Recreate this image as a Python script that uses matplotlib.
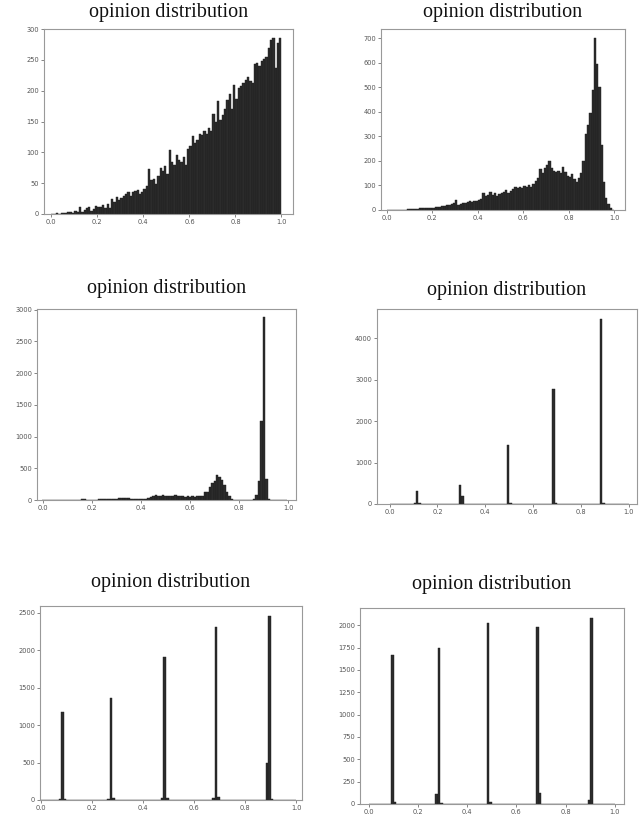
#!/usr/bin/env python3
# -*- coding: utf-8 -*-
# six opinion distribution histograms (100 bins on [0, 1])
import numpy as np
import matplotlib
matplotlib.use('Agg')
import matplotlib.pyplot as plt

titulo = 'opinion distribution'

# panel 1: counts per bin (bin i = [i/100, (i+1)/100))
cuentas1 = [0, 0, 1, 0, 1, 1, 2, 3, 4, 2,
            5, 4, 12, 3, 6, 10, 11, 5, 8, 13,
            12, 11, 14, 9, 17, 10, 24, 20, 27, 22,
            26, 30, 33, 35, 29, 35, 38, 39, 33, 36,
            40, 45, 73, 55, 57, 48, 62, 75, 70, 78,
            65, 103, 85, 80, 95, 88, 84, 92, 80, 105,
            110, 126, 115, 120, 130, 128, 135, 130, 140, 135,
            162, 150, 184, 152, 160, 170, 185, 195, 170, 210,
            186, 205, 208, 212, 218, 222, 215, 212, 243, 245,
            240, 248, 252, 255, 270, 282, 285, 237, 278, 285]

# panel 2
cuentas2 = [1, 1, 2, 1, 2, 2, 2, 1, 2, 3,
            3, 4, 3, 6, 8, 7, 9, 10, 8, 9,
            10, 12, 11, 14, 18, 16, 20, 22, 25, 28,
            40, 22, 25, 28, 30, 32, 35, 33, 38, 36,
            40, 45, 68, 55, 60, 72, 62, 68, 58, 65,
            70, 75, 80, 70, 78, 85, 92, 88, 95, 90,
            98, 92, 100, 95, 105, 120, 130, 165, 150, 170,
            185, 198, 170, 160, 155, 160, 150, 175, 155, 140,
            135, 145, 125, 115, 130, 150, 200, 310, 345, 395,
            490, 700, 595, 500, 265, 115, 50, 25, 10, 2]

# panel 3 (bins centred on i/100)
cuentas3 = [0, 0, 0, 0, 0, 0, 0, 0, 0, 0,
            0, 0, 0, 0, 1, 2, 8, 10, 3, 2,
            3, 5, 6, 8, 10, 9, 12, 14, 15, 18,
            22, 28, 30, 32, 28, 25, 18, 16, 15, 18,
            16, 18, 20, 35, 50, 65, 75, 70, 68, 72,
            65, 70, 62, 68, 72, 60, 58, 65, 55, 60,
            52, 68, 55, 60, 62, 60, 120, 130, 200, 270,
            300, 390, 370, 310, 230, 130, 60, 20, 5, 2,
            1, 1, 0, 1, 2, 5, 20, 80, 300, 1250,
            2880, 330, 8, 0, 0, 0, 0, 0, 0, 0]

# panels 4-6: only the non-empty bins
indices4 = [10, 11, 12, 29, 30, 49, 50, 68, 69, 88, 89]
valores4 = [15, 320, 15, 460, 200, 1420, 30, 2780, 20, 4470, 15]

indices5 = [7, 8, 9, 26, 27, 28, 47, 48, 49, 67, 68, 69, 88, 89, 90]
valores5 = [10, 1170, 20, 10, 1360, 25, 25, 1910, 30, 30, 2310, 35, 500, 2460, 15]

indices6 = [9, 10, 27, 28, 29, 48, 49, 68, 69, 89, 90]
valores6 = [1665, 20, 110, 1745, 15, 2025, 20, 1980, 120, 45, 2080]

yticks = [np.arange(0, 301, 50), np.arange(0, 701, 100), np.arange(0, 3001, 500),
          np.arange(0, 4001, 1000), np.arange(0, 2501, 500), np.arange(0, 2001, 250)]


def llenar(indices, valores):
    c = np.zeros(100)
    c[indices] = valores
    return c


def main():
    W, H = 644, 818
    fig = plt.figure(figsize=(W / 100, H / 100), dpi=100)
    fig.patch.set_facecolor('white')

    datos = [np.array(cuentas1), np.array(cuentas2), np.array(cuentas3),
             llenar(indices4, valores4), llenar(indices5, valores5),
             llenar(indices6, valores6)]
    desplaz = [0, 0, -0.005, 0, 0, 0]
    # caja de ejes en pixeles: left, right, top, bottom
    cajas = [(44, 293, 29, 214), (381, 625, 29, 210),
             (37, 296, 309, 500), (377, 637, 309, 504),
             (40, 302, 606, 800), (360, 624, 608, 804)]
    xlims = [(-0.032, 1.05), (-0.026, 1.047), (-0.024, 1.031),
             (-0.053, 1.035), (-0.003, 1.022), (-0.037, 1.038)]
    ylims = [300, 737, 3010, 4700, 2589, 2194]
    titulo_y = [13, 13, 288, 291, 583, 585]

    for k in range(6):
        l, r, t, b = cajas[k]
        ax = fig.add_axes([l / W, 1 - b / H, (r - l) / W, (b - t) / H])
        bordes = np.linspace(0, 1, 101) + desplaz[k]
        centros = (bordes[:-1] + bordes[1:]) / 2
        ax.hist(centros, bins=bordes, weights=datos[k], color='#2c2c2c',
                edgecolor='#1a1a1a', linewidth=0.3)
        ax.set_xlim(*xlims[k])
        ax.set_ylim(0, ylims[k])
        ax.set_xticks(np.arange(0, 1.01, 0.2))
        ax.set_yticks(yticks[k])
        ax.tick_params(labelsize=4.8, colors='#555555', length=2, width=0.5, pad=1.5)
        for s in ax.spines.values():
            s.set_color('#999999')
            s.set_linewidth(0.8)
        fig.text((l + r) / 2 / W, 1 - titulo_y[k] / H, titulo, ha='center', va='center',
                 fontsize=14.5, family='Liberation Serif', color='#111111')

    plt.savefig('out.png', dpi=100)


if __name__ == '__main__':
    main()
